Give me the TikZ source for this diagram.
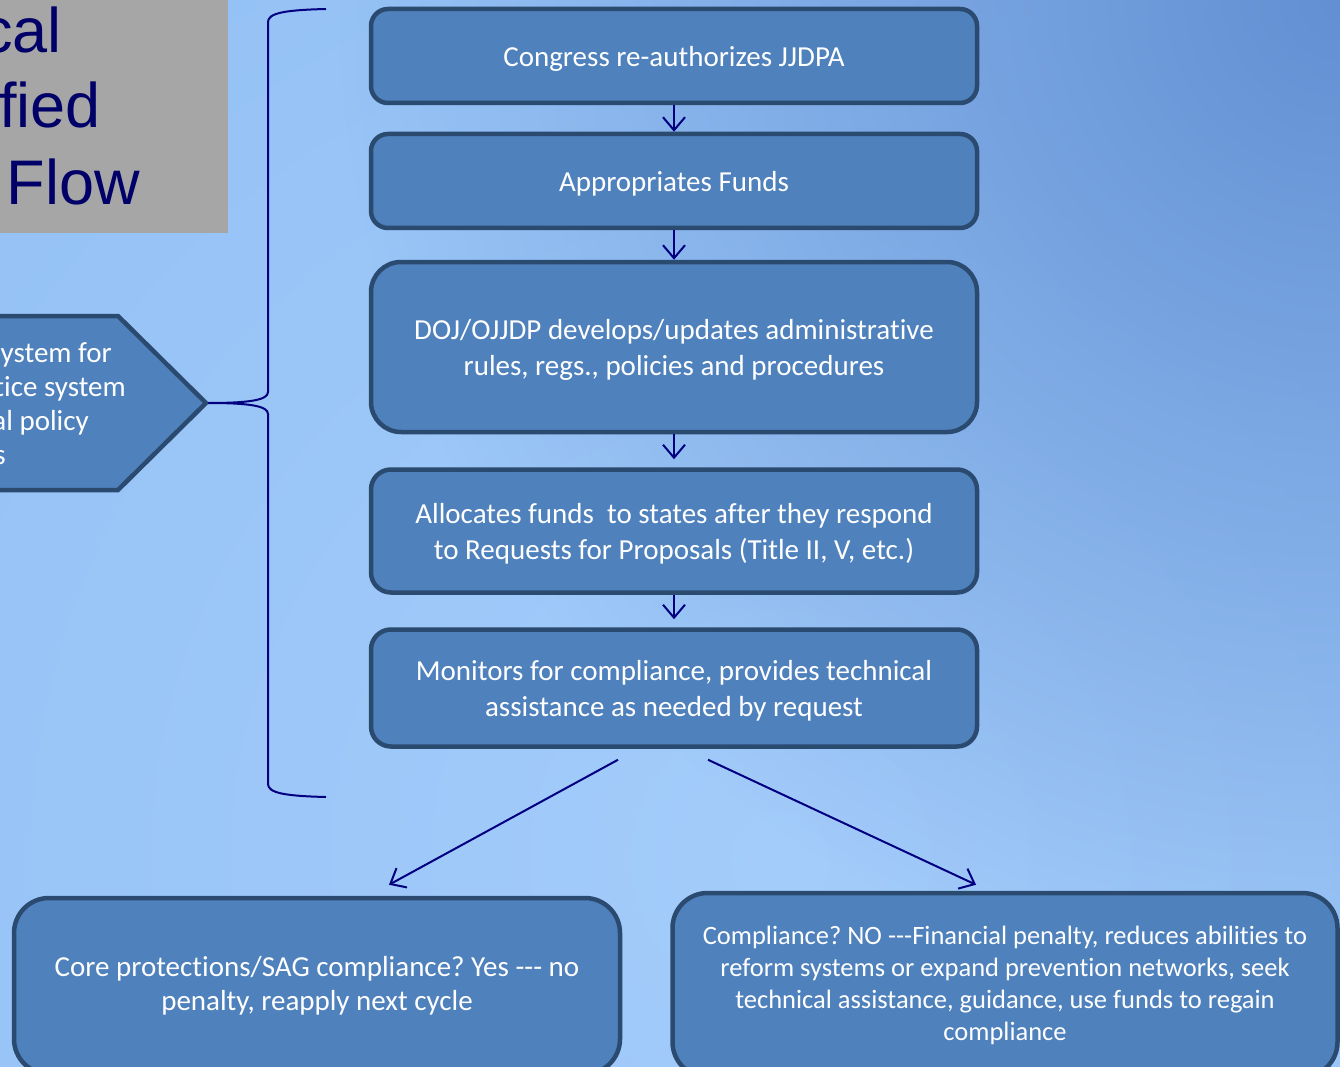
\documentclass[tikz,border=0pt]{standalone}
\usepackage{fontspec}
\setmainfont{Carlito}[Ligatures={NoCommon}]
\newfontfamily\titlefont{Liberation Sans}
\usetikzlibrary{arrows.meta,calc,fadings}
\tikzfading[name=cornerfade, inner color=transparent!0, outer color=transparent!100]
\definecolor{boxfill}{HTML}{4F81BD}
\definecolor{boxline}{HTML}{2B4A6F}
\definecolor{navy}{HTML}{000080}
\definecolor{titlecol}{HTML}{000068}
\definecolor{graybox}{HTML}{A6A6A6}
\definecolor{bgin}{HTML}{A3CCFA}
\definecolor{bgout}{HTML}{88B8F2}
\definecolor{bgdark}{HTML}{6390D3}
\frenchspacing
\begin{document}
\begin{tikzpicture}[x=1pt,y=-1pt,
  flowbox/.style={draw=boxline, fill=boxfill, line width=4.5pt, text=white, align=center,
    font=\fontsize{29}{36}\selectfont, inner sep=0pt, text depth=0pt},
  arr/.style={draw=navy, line width=2pt, -{Straight Barb[length=13pt,width=22pt,line width=2pt]}},
  titletext/.style={text=titlecol, font=\titlefont\fontsize{63}{76}\selectfont, inner sep=0pt, anchor=base east},
  pentext/.style={text=white, font=\fontsize{29}{34}\selectfont, inner sep=0pt, anchor=base east},
  brace/.style={draw=navy, line width=2pt},
]
\useasboundingbox (0,0) rectangle (1340,1067);
\clip (0,0) rectangle (1340,1067);
% background
\shade[inner color=bgin, outer color=bgout] (780,860) circle (2000);
\fill[bgdark, path fading=cornerfade] (1340,0) circle (1000);

% title box (cut off)
\fill[graybox] (0,0) rectangle (228,233);
\node[titletext] (t1) at (62,53) {cal};
\node[titletext] (t2) at (101,128) {fied};
\node[titletext] (t3) at (140,205) {Flow};

% pentagon (cut off on the left)
\draw[draw=boxline, fill=boxfill, line width=4.5pt, line join=miter]
  (-30,316) -- (118,316) -- (206,403) -- (118,490) -- (-30,490) -- cycle;
\coordinate (ptip) at (208,403);
\node[pentext] (p1) at (112,362) {ystem for};
\node[pentext] (p2) at (126,396) {tice system};
\node[pentext] (p3) at (89,430) {al policy};
\node[pentext] (p4) at (6,464) {s};

% brace
\coordinate (btop) at (326,9);
\coordinate (bbot) at (326,797);
\draw[brace] (btop) .. controls (285,10) and (268,13) .. (268,22) -- (268,392)
  .. controls (268,400) and (250,403) .. (ptip)
  .. controls (250,403) and (268,406) .. (268,414) -- (268,784)
  .. controls (268,793) and (285,796) .. (bbot);

% flow boxes
\node[flowbox, minimum width=606pt, minimum height=94pt, rounded corners=17pt] (b1) at (674,56) {Congress re-authorizes JJDPA};
\node[flowbox, minimum width=606pt, minimum height=94pt, rounded corners=17pt] (b2) at (674,181) {Appropriates Funds};
\node[flowbox, minimum width=606pt, minimum height=170pt, rounded corners=30pt] (b3) at (674,347) {DOJ/OJJDP develops/updates administrative\\rules, regs., policies and procedures};
\node[flowbox, minimum width=606pt, minimum height=123pt, rounded corners=20pt] (b4) at (674,531) {Allocates funds\ \ to states after they respond\\to Requests for Proposals (Title II, V, etc.)};
\node[flowbox, minimum width=606pt, minimum height=117pt, rounded corners=20pt] (b5) at (674,688) {Monitors for compliance, provides technical\\assistance as needed by request};
\node[flowbox, minimum width=606pt, minimum height=176pt, rounded corners=35pt, text depth=, font=\fontsize{29}{34}\selectfont] (bl) at (317,986) {Core protections/SAG compliance? Yes -{}-{}- no\\penalty, reapply next cycle};
\node[flowbox, minimum width=665pt, minimum height=184pt, rounded corners=35pt, text depth=, font=\fontsize{26.5}{32}\selectfont] (br) at (1005,985) {Compliance? NO -{}-{}-Financial penalty, reduces abilities to\\reform systems or expand prevention networks, seek\\technical assistance, guidance, use funds to regain\\compliance};

% connectors
\draw[arr] (b1) -- (b2);
\draw[arr] (b2) -- (b3);
\draw[arr, shorten >=8pt] (b3) -- (b4);
\draw[arr, shorten >=8pt] (b4) -- (b5);
\draw[arr] ($(b5.south)+(-56,11)$) -- ($(bl.north)+(72,-11)$);
\draw[arr] ($(b5.south)+(34,11)$) -- ($(br.north)+(-29,-6)$);
\end{tikzpicture}
\end{document}
